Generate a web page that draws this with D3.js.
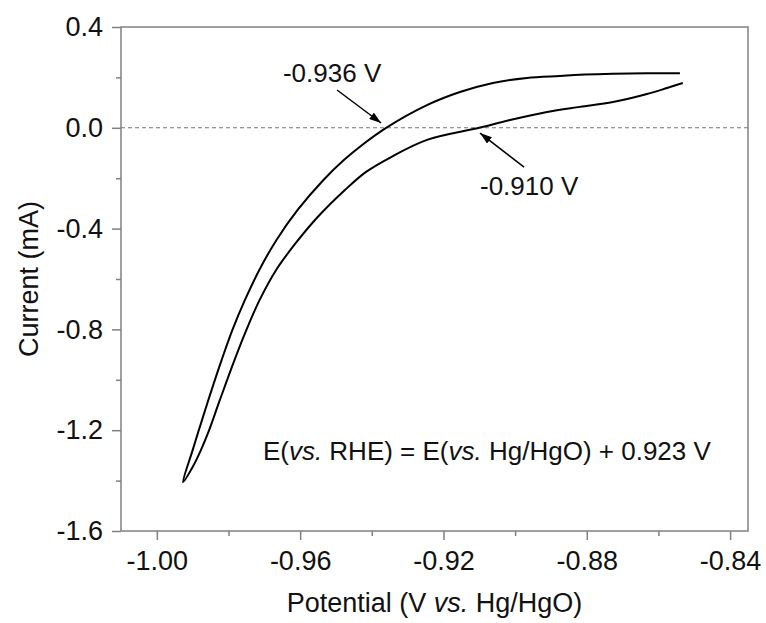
<!DOCTYPE html>
<html>
<head>
<meta charset="utf-8">
<script src="https://cdn.jsdelivr.net/npm/d3@7/dist/d3.min.js"></script>
<style>
  html, body { margin: 0; padding: 0; background: #fff; }
  svg { display: block; font-family: "Liberation Sans", Arial, Helvetica, sans-serif; }
</style>
</head>
<body>
<svg id="chart" width="766" height="623"></svg>
<script>
// ---- Data ----
// Cyclic voltammogram: upper branch from right end down to the tip, then lower branch back to the right
const potential = [
  -0.8540, -0.8632, -0.8727, -0.8819, -0.8875, -0.8967, -0.9062, -0.9154, -0.9246, -0.9360,
  -0.9427, -0.9478, -0.9535, -0.9607, -0.9666, -0.9714, -0.9754, -0.9789, -0.9819, -0.9847,
  -0.9874, -0.9900, -0.9927,
  -0.9900, -0.9877, -0.9857, -0.9824, -0.9783, -0.9750, -0.9713, -0.9667, -0.9612, -0.9551,
  -0.9475, -0.9416, -0.9346, -0.9246, -0.9100, -0.9014, -0.8911, -0.8819, -0.8727, -0.8632,
  -0.8576, -0.8532
];
const current = [
  0.216, 0.216, 0.214, 0.211, 0.206, 0.198, 0.178, 0.142, 0.090, 0.000,
  -0.068, -0.128, -0.207, -0.326, -0.445, -0.564, -0.683, -0.802, -0.921, -1.040,
  -1.160, -1.279, -1.406,
  -1.346, -1.279, -1.211, -1.080, -0.921, -0.802, -0.683, -0.564, -0.457, -0.354,
  -0.247, -0.175, -0.116, -0.048, 0.000, 0.031, 0.063, 0.083, 0.102, 0.134,
  0.158, 0.178
];

const xTicks = [-1.00, -0.96, -0.92, -0.88, -0.84];
const xMinorTicks = [-0.98, -0.94, -0.90, -0.86];
const yTicks = [0.4, 0.0, -0.4, -0.8, -1.2, -1.6];
const yMinorTicks = [0.2, -0.2, -0.6, -1.0, -1.4];

const xTitle = ["Potential (V ", "vs.", " Hg/HgO)"];
const yTitle = "Current (mA)";

// annotations in data units: label position, arrow tail, arrow tip
const annotations = [
  { label: "-0.936 V", lx: -0.9648, ly: 0.182, tx: -0.9497, ty: 0.150, hx: -0.9374, hy: 0.019 },
  { label: "-0.910 V", lx: -0.9098, ly: -0.267, tx: -0.8975, ty: -0.156, hx: -0.9098, hy: -0.021 }
];
const equation = { x: -0.9704, y: -1.318 };

// ---- Layout ----
const svg = d3.select("#chart");
const margin = { left: 121, right: 18, top: 27, bottom: 92 };
const W = 766, H = 623;
const x = d3.scaleLinear().domain([-1.01, -0.835]).range([margin.left, W - margin.right]);
const y = d3.scaleLinear().domain([-1.6, 0.4]).range([H - margin.bottom, margin.top]);

const axisColor = "#808080";
const hy = s => s.replace("\u2212", "-");

svg.append("rect").attr("width", W).attr("height", H).attr("fill", "#fff");

// zero dashed line
svg.append("line")
  .attr("x1", x.range()[0]).attr("x2", x.range()[1])
  .attr("y1", y(0)).attr("y2", y(0))
  .attr("stroke", "#777").attr("stroke-width", 1.1)
  .attr("stroke-dasharray", "4,3");

// axes
const gx = svg.append("g").attr("transform", `translate(0,${y.range()[0]})`)
  .call(d3.axisBottom(x).tickValues(xTicks).tickSize(9).tickPadding(11)
    .tickFormat(d => hy(d3.format(".2f")(d))));
const gxm = svg.append("g").attr("transform", `translate(0,${y.range()[0]})`)
  .call(d3.axisBottom(x).tickValues(xMinorTicks).tickSize(5).tickFormat(""));
const gy = svg.append("g").attr("transform", `translate(${x.range()[0]},0)`)
  .call(d3.axisLeft(y).tickValues(yTicks).tickSize(9).tickPadding(9)
    .tickFormat(d => hy(d3.format(".1f")(d))));
const gym = svg.append("g").attr("transform", `translate(${x.range()[0]},0)`)
  .call(d3.axisLeft(y).tickValues(yMinorTicks).tickSize(5).tickFormat(""));

[gx, gxm, gy, gym].forEach(g => {
  g.select(".domain").remove();
  g.selectAll(".tick line").attr("stroke", axisColor).attr("stroke-width", 1.5);
  g.selectAll(".tick text").attr("fill", "#111").attr("font-size", 27)
    .attr("font-family", '"Liberation Sans", Arial, sans-serif');
});

// frame
svg.append("rect")
  .attr("x", x.range()[0]).attr("y", y.range()[1])
  .attr("width", x.range()[1] - x.range()[0])
  .attr("height", y.range()[0] - y.range()[1])
  .attr("fill", "none").attr("stroke", axisColor).attr("stroke-width", 1.5);

// curve
const pts = potential.map((p, i) => [p, current[i]]);
const line = d3.line().x(d => x(d[0])).y(d => y(d[1])).curve(d3.curveCatmullRom.alpha(0.5));
svg.append("path").datum(pts)
  .attr("d", line)
  .attr("fill", "none").attr("stroke", "#000").attr("stroke-width", 2)
  .attr("stroke-linejoin", "round");

// arrows
const defs = svg.append("defs");
defs.append("marker").attr("id", "ah")
  .attr("viewBox", "0 0 12 8").attr("refX", 12).attr("refY", 4)
  .attr("markerWidth", 12).attr("markerHeight", 8).attr("markerUnits", "userSpaceOnUse")
  .attr("orient", "auto")
  .append("path").attr("d", "M0,0 L12,4 L0,8 Z").attr("fill", "#000");

annotations.forEach(a => {
  svg.append("line")
    .attr("x1", x(a.tx)).attr("y1", y(a.ty))
    .attr("x2", x(a.hx)).attr("y2", y(a.hy))
    .attr("stroke", "#000").attr("stroke-width", 1.5)
    .attr("marker-end", "url(#ah)");
  svg.append("text").attr("x", x(a.lx)).attr("y", y(a.ly))
    .attr("font-size", 26).attr("fill", "#111").text(a.label);
});

// equation
const eq = svg.append("text").attr("x", x(equation.x)).attr("y", y(equation.y))
  .attr("font-size", 26).attr("fill", "#111");
eq.append("tspan").text("E(");
eq.append("tspan").attr("font-style", "italic").text("vs.");
eq.append("tspan").text(" RHE) = E(");
eq.append("tspan").attr("font-style", "italic").text("vs.");
eq.append("tspan").text(" Hg/HgO) + 0.923 V");

// axis titles
const xt = svg.append("text").attr("x", (x.range()[0] + x.range()[1]) / 2).attr("y", 612)
  .attr("text-anchor", "middle").attr("font-size", 27).attr("fill", "#111");
xt.append("tspan").text(xTitle[0]);
xt.append("tspan").attr("font-style", "italic").text(xTitle[1]);
xt.append("tspan").text(xTitle[2]);

svg.append("text")
  .attr("transform", `translate(38,${(y.range()[0] + y.range()[1]) / 2}) rotate(-90)`)
  .attr("text-anchor", "middle").attr("font-size", 27).attr("fill", "#111")
  .text(yTitle);
</script>
</body>
</html>
